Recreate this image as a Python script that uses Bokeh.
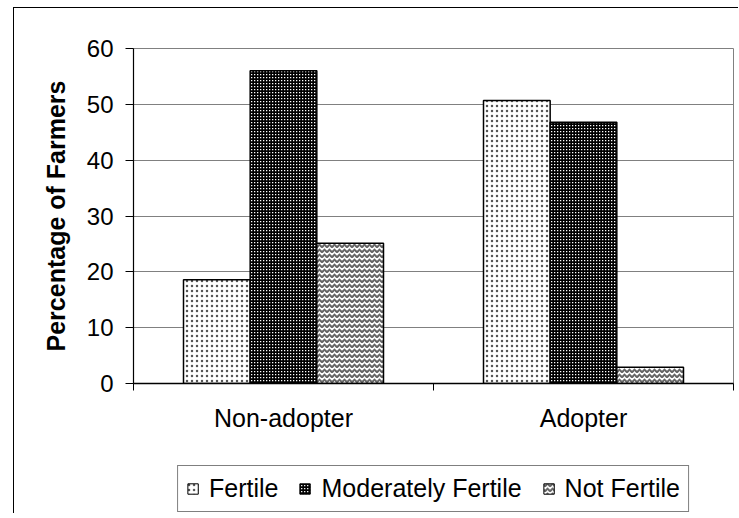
import numpy as np
from bokeh.plotting import figure
from bokeh.layouts import column
from bokeh.models import (Range1d, FixedTicker, Legend, LegendItem, ColumnDataSource)
from bokeh.embed import file_html
from bokeh.resources import INLINE

# ---- data ----
categories = ["Non-adopter", "Adopter"]
series = ["Fertile", "Moderately Fertile", "Not Fertile"]
fertile = [18.6, 50.7]
moderately_fertile = [56.0, 46.8]
not_fertile = [25.1, 2.9]
y_ticks = [0, 10, 20, 30, 40, 50, 60]

values = [fertile, moderately_fertile, not_fertile]

FONT = "Liberation Sans"

styles = [
    dict(fill_color="white", hatch_pattern="dot", hatch_color="#555555",
         hatch_scale=5, hatch_weight=1.0),
    dict(fill_color="white", hatch_pattern="cross", hatch_color="black",
         hatch_scale=3, hatch_weight=2.4),
    dict(fill_color="white", hatch_pattern="horizontal_wave", hatch_color="#666666",
         hatch_scale=5, hatch_weight=2),
]

p = figure(frame_width=600, frame_height=335, output_backend="svg", toolbar_location=None,
           x_range=Range1d(0, len(categories)), y_range=Range1d(0, 60),
           min_border_left=119, min_border_right=5, min_border_top=40,
           min_border_bottom=60)
p.background_fill_color = "white"
p.border_fill_color = "white"
p.outline_line_color = "#808080"
p.outline_line_width = 1

n = len(series)
bar_w = (2.0 / 3.0) / n
centers = np.arange(len(categories)) + 0.5
sources = []
for j, (name, vals, st) in enumerate(zip(series, values, styles)):
    xs = centers + (j - (n - 1) / 2.0) * bar_w
    src = ColumnDataSource(dict(x=xs, top=vals))
    sources.append(src)
    p.vbar(x="x", top="top", width=bar_w, bottom=0, source=src,
           line_color="black", line_width=1.5, **st)

# y axis
p.yaxis.ticker = FixedTicker(ticks=y_ticks)
p.yaxis.axis_label = "Percentage of Farmers"
p.yaxis.axis_label_text_font = FONT
p.yaxis.axis_label_text_font_style = "bold"
p.yaxis.axis_label_text_font_size = "25px"
p.yaxis.axis_label_text_color = "black"
p.yaxis.axis_label_standoff = 14
p.yaxis.major_label_text_font = FONT
p.yaxis.major_label_text_font_size = "24px"
p.yaxis.major_label_text_color = "black"
p.yaxis.major_label_standoff = 12
p.yaxis.major_tick_out = 8
p.yaxis.major_tick_in = 0
p.yaxis.minor_tick_line_color = None
p.yaxis.axis_line_color = "black"
p.yaxis.axis_line_width = 1.2
p.yaxis.major_tick_line_color = "black"

# x axis: labels at category centres, tick marks at boundaries
p.xaxis.ticker = FixedTicker(ticks=list(centers),
                             minor_ticks=list(range(len(categories) + 1)))
p.xaxis.major_label_overrides = {float(c): lab for c, lab in zip(centers, categories)}
p.xaxis.major_tick_out = 0
p.xaxis.major_tick_in = 0
p.xaxis.major_tick_line_color = None
p.xaxis.minor_tick_out = 7
p.xaxis.minor_tick_in = 0
p.xaxis.minor_tick_line_color = "black"
p.xaxis.axis_line_color = "black"
p.xaxis.axis_line_width = 1.5
p.xaxis.major_label_text_font = FONT
p.xaxis.major_label_text_font_size = "25px"
p.xaxis.major_label_text_color = "black"
p.xaxis.major_label_standoff = 13

p.xgrid.grid_line_color = None
p.ygrid.ticker = FixedTicker(ticks=y_ticks)
p.ygrid.grid_line_color = "#808080"
p.ygrid.grid_line_width = 1

# ---- legend strip (separate figure below the chart) ----
# the same data are re-used here, but the strip's y range lies far above them,
# so only the legend swatches are visible
q = figure(frame_width=600, frame_height=70, output_backend="svg", toolbar_location=None,
           x_range=Range1d(0, len(categories)), y_range=Range1d(1000, 1001),
           x_axis_location=None, y_axis_location=None,
           min_border_left=119, min_border_right=5, min_border_top=0,
           min_border_bottom=0)
q.grid.visible = False
q.outline_line_color = None
q.background_fill_color = "white"
q.border_fill_color = "white"

items = []
for name, st, src in zip(series, styles, sources):
    r = q.vbar(x="x", top="top", width=bar_w, bottom=0, source=src,
               line_color="black", line_width=1.0, **st)
    items.append(LegendItem(label=name, renderers=[r]))

legend = Legend(items=items, orientation="horizontal", location="bottom",
                margin=1, padding=8, spacing=20, label_standoff=10,
                glyph_width=13, glyph_height=13,
                label_text_font=FONT, label_text_font_size="25px",
                label_text_color="black",
                border_line_color="black", border_line_width=1,
                background_fill_color="white", background_fill_alpha=1)
q.add_layout(legend, "center")

lay = column(p, q, spacing=0)
lay.margin = (7, 0, 0, 13)
lay.styles = {"border-left": "1px solid black", "border-top": "1px solid black"}

open("out.html", "w").write(file_html(lay, INLINE))
